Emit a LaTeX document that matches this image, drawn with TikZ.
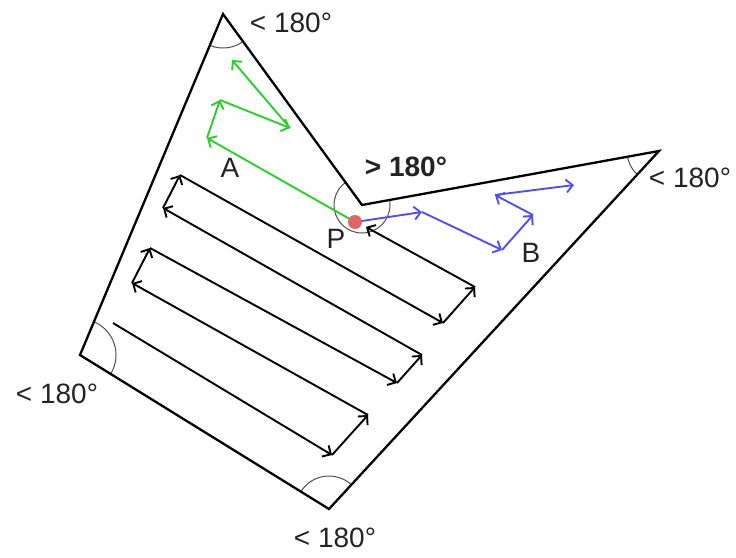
\documentclass[tikz,border=0pt]{standalone}
\usepackage{fontspec}
\setmainfont{Liberation Sans}
\usetikzlibrary{arrows.meta}
\definecolor{pgreen}{RGB}{45,205,45}
\definecolor{pblue}{RGB}{80,80,235}
\definecolor{pred}{RGB}{224,102,102}
\definecolor{arcgray}{RGB}{80,80,80}
\definecolor{txt}{RGB}{35,35,35}
\begin{document}
\begin{tikzpicture}[x=1pt,y=-1pt,
  edge/.style={line width=2.3pt,black,line join=miter},
  anglearc/.style={line width=1pt,arcgray},
  arr/.style={line width=1.9pt,-{Straight Barb[length=6.5pt,width=13pt,line width=1.9pt]}},
  karr/.style={arr,black},
  garr/.style={arr,pgreen},
  barr/.style={arr,pblue},
  lbl/.style={inner sep=0pt,text=txt,font=\fontsize{28}{30}\selectfont}]
\useasboundingbox (0,0) rectangle (736,557);
% polygon vertices
\coordinate (T) at (223,14);
\coordinate (R) at (362,205);
\coordinate (E) at (659,151);
\coordinate (Bt) at (329,509);
\coordinate (L) at (80,355);
% angle arcs
\begin{scope}
\clip (T) -- (R) -- (E) -- (Bt) -- (L) -- cycle;
\draw[anglearc] (T) circle[radius=34pt];
\draw[anglearc] (R) circle[radius=28pt];
\draw[anglearc] (E) circle[radius=32pt];
\draw[anglearc] (Bt) circle[radius=33pt];
\draw[anglearc] (L) circle[radius=36pt];
\end{scope}
\draw[edge] (T) -- (R) -- (E) -- (Bt) -- (L) -- cycle;
% point P
\coordinate (P) at (355,222);
% black boustrophedon path
\coordinate (s0) at (113,323);
\coordinate (s1) at (332,455);
\coordinate (s2) at (368,415);
\coordinate (s3) at (132,283);
\coordinate (s4) at (150,248);
\coordinate (s5) at (397,383);
\coordinate (s6) at (422,355);
\coordinate (s7) at (163,208);
\coordinate (s8) at (180,175);
\coordinate (s9) at (443,323);
\coordinate (s10) at (475,287);
\coordinate (s11) at (366,227);
\draw[karr] (s0) -- (s1);
\draw[karr] (s1) -- (s2);
\draw[karr] (s2) -- (s3);
\draw[karr] (s3) -- (s4);
\draw[karr] (s4) -- (s5);
\draw[karr] (s5) -- (s6);
\draw[karr] (s6) -- (s7);
\draw[karr] (s7) -- (s8);
\draw[karr] (s8) -- (s9);
\draw[karr] (s9) -- (s10);
\draw[karr] (s10) -- (s11);
% green path A
\coordinate (g1) at (207,138);
\coordinate (g2) at (220,100);
\coordinate (g3) at (290,128);
\coordinate (g4) at (232,60);
\draw[garr] (P) -- (g1);
\draw[garr] (g1) -- (g2);
\draw[garr] (g2) -- (g3);
\draw[garr] (g3) -- (g4);
% blue path B
\coordinate (b1) at (422,212);
\coordinate (b2) at (502,250);
\coordinate (b3) at (533,215);
\coordinate (b4) at (495,195);
\coordinate (b5) at (574,185);
\draw[barr] (P) -- (b1);
\draw[barr] (b1) -- (b2);
\draw[barr] (b2) -- (b3);
\draw[barr] (b3) -- (b4);
\draw[barr] (b4) -- (b5);
% red dot
\fill[pred] (P) circle[radius=7pt];
% labels
\node[lbl] (la) at (291,23) {< 180°};
\node[lbl] (lb) at (690,178) {< 180°};
\node[lbl] (lc) at (57,394) {< 180°};
\node[lbl] (ld) at (335,538) {< 180°};
\node[lbl,font=\fontsize{28}{30}\selectfont\bfseries] (le) at (406,167) {> 180°};
\node[lbl] (nA) at (230,168) {A};
\node[lbl] (nP) at (336,239) {P};
\node[lbl] (nB) at (531,253) {B};
\end{tikzpicture}
\end{document}
